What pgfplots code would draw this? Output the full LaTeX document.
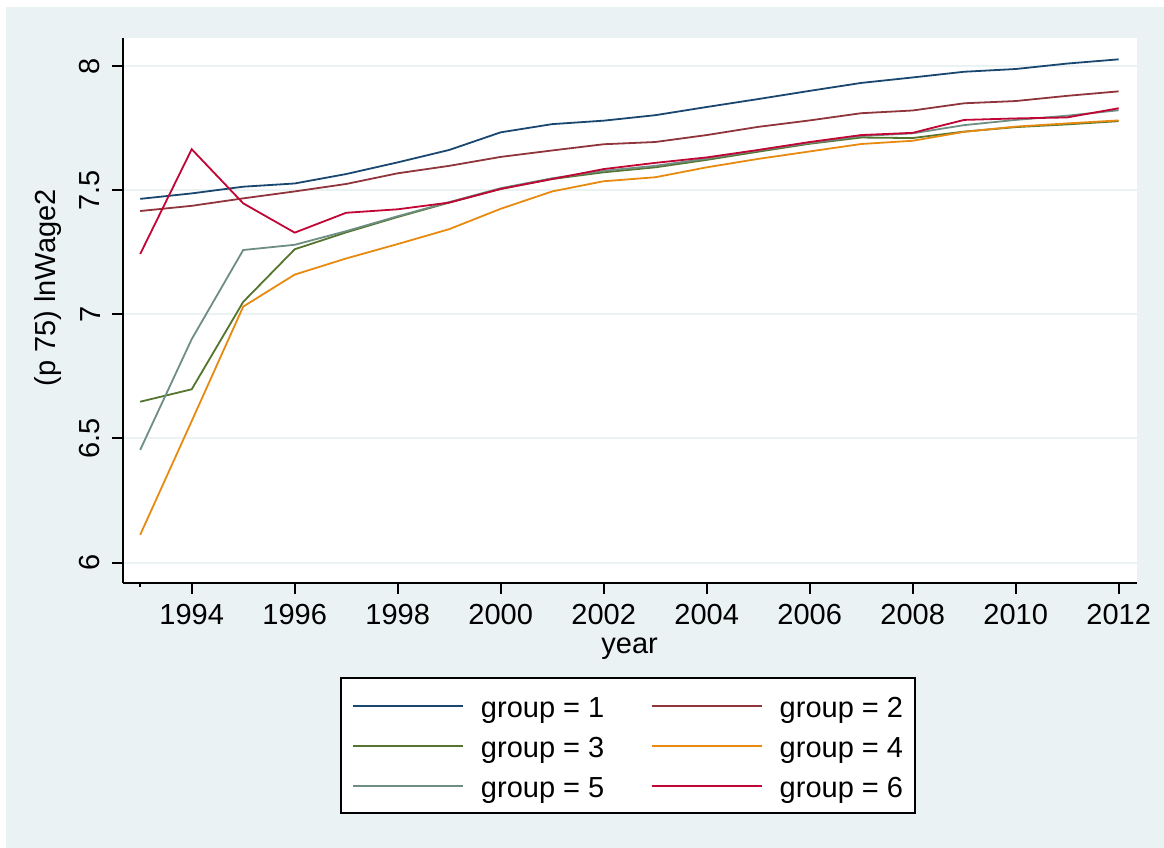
\documentclass[border=0pt]{standalone}
\usepackage{fontspec}
\setmainfont{Liberation Sans}
\usepackage{pgfplots}
\pgfplotsset{compat=1.18}
\definecolor{stbg}{HTML}{EAF2F3}
\definecolor{gnavy}{HTML}{1A476F}
\definecolor{gmaroon}{HTML}{90353B}
\definecolor{ggreen}{HTML}{55752F}
\definecolor{gorange}{HTML}{E88A10}
\definecolor{gteal}{HTML}{6E8E84}
\definecolor{gcran}{HTML}{C10534}
\newcommand{\bigfont}{\fontsize{29bp}{35bp}\selectfont}

\begin{document}
\begin{tikzpicture}[x=1bp,y=1bp]
\path[use as bounding box] (0,0) rectangle (1164,848);
\fill[white] (0,0) rectangle (1164,848);
\fill[stbg] (6,0) rectangle (1164,841);
\begin{axis}[
  at={(122.7bp,265.3bp)}, anchor=south west,
  scale only axis, width=1014bp, height=544.7bp,
  xmin=1992.66, xmax=2012.35, ymin=5.919, ymax=8.113,
  axis x line*=bottom, axis y line*=left,
  axis line style={line width=2bp, -, black},
  axis background/.style={fill=white},
  tick align=outside,
  major tick length=11bp,
  tick style={black, line width=2bp},
  xtick={1994,1996,...,2012},
  ytick={6,6.5,7,7.5,8},
  extra x ticks={1993}, extra x tick labels={},
  extra x tick style={major tick length=4bp},
  /pgf/number format/assume math mode=true,
  x tick label style={/pgf/number format/1000 sep={}},
  tick label style={font=\bigfont},
  xticklabel shift=7bp,
  yticklabel shift=8bp,
  yticklabel style={rotate=90, anchor=south},
  ymajorgrids, major grid style={stbg, line width=2bp},
  label style={font=\bigfont},
  xlabel={year},
  xlabel style={at={(axis description cs:0.5,-0.1217)}, anchor=center},
  ylabel={(p 75) lnWage2},
  ylabel style={at={(axis description cs:-0.0737,0.541)}, anchor=center},
  every axis plot/.append style={line width=1.8bp, mark=none},
  legend columns=2,
  legend cell align=left,
  legend style={at={(axis description cs:0.2143,-0.1731)}, anchor=north west,
    draw=black, line width=2bp, fill=white, inner xsep=0pt, inner ysep=9.3bp,
    row sep=3.6bp, column sep=0pt, font=\bigfont,
    cells={anchor=base west},
    nodes={inner sep=0pt, text height=30.4bp, text depth=6bp}},
  legend image code/.code={\path[draw=none] (0bp,0bp) -- (140bp,0bp);
    \draw[#1, line width=1.8bp] (12bp,11.7bp) -- (122bp,11.7bp);},
]
\addplot[gnavy] coordinates {(1993,7.465) (1994,7.487) (1995,7.514) (1996,7.527) (1997,7.565) (1998,7.612) (1999,7.662) (2000,7.733) (2001,7.766) (2002,7.780) (2003,7.802) (2004,7.835) (2005,7.867) (2006,7.900) (2007,7.932) (2008,7.954) (2009,7.977) (2010,7.988) (2011,8.010) (2012,8.027)};
\addlegendentry{group = 1\hspace*{35.4bp}}
\addplot[gmaroon] coordinates {(1993,7.416) (1994,7.437) (1995,7.467) (1996,7.495) (1997,7.525) (1998,7.568) (1999,7.598) (2000,7.634) (2001,7.660) (2002,7.685) (2003,7.694) (2004,7.722) (2005,7.755) (2006,7.781) (2007,7.810) (2008,7.821) (2009,7.850) (2010,7.859) (2011,7.880) (2012,7.898)};
\addlegendentry{group = 2\hspace*{12bp}}
\addplot[ggreen] coordinates {(1993,6.648) (1994,6.698) (1995,7.050) (1996,7.262) (1997,7.330) (1998,7.392) (1999,7.450) (2000,7.505) (2001,7.545) (2002,7.572) (2003,7.592) (2004,7.622) (2005,7.655) (2006,7.687) (2007,7.712) (2008,7.710) (2009,7.736) (2010,7.754) (2011,7.765) (2012,7.778)};
\addlegendentry{group = 3\hspace*{35.4bp}}
\addplot[gorange] coordinates {(1993,6.112) (1994,6.570) (1995,7.031) (1996,7.160) (1997,7.225) (1998,7.283) (1999,7.343) (2000,7.425) (2001,7.495) (2002,7.536) (2003,7.552) (2004,7.592) (2005,7.626) (2006,7.656) (2007,7.686) (2008,7.699) (2009,7.735) (2010,7.756) (2011,7.769) (2012,7.781)};
\addlegendentry{group = 4\hspace*{12bp}}
\addplot[gteal] coordinates {(1993,6.454) (1994,6.900) (1995,7.259) (1996,7.280) (1997,7.335) (1998,7.395) (1999,7.452) (2000,7.508) (2001,7.548) (2002,7.578) (2003,7.598) (2004,7.627) (2005,7.660) (2006,7.690) (2007,7.718) (2008,7.729) (2009,7.762) (2010,7.783) (2011,7.800) (2012,7.822)};
\addlegendentry{group = 5\hspace*{35.4bp}}
\addplot[gcran] coordinates {(1993,7.243) (1994,7.665) (1995,7.447) (1996,7.329) (1997,7.409) (1998,7.423) (1999,7.450) (2000,7.505) (2001,7.545) (2002,7.585) (2003,7.610) (2004,7.632) (2005,7.662) (2006,7.694) (2007,7.722) (2008,7.731) (2009,7.783) (2010,7.789) (2011,7.793) (2012,7.830)};
\addlegendentry{group = 6\hspace*{12bp}}
\end{axis}
\end{tikzpicture}
\end{document}
